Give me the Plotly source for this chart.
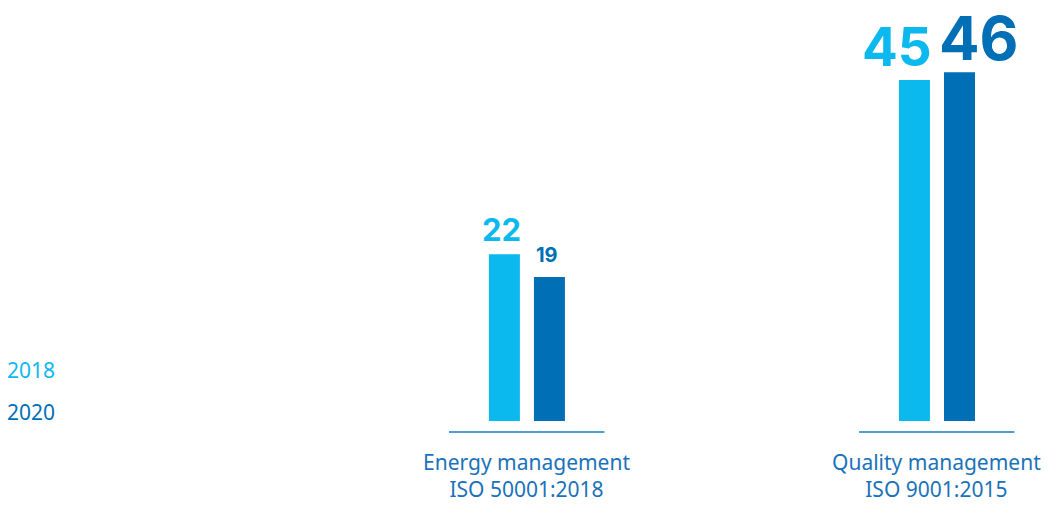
import plotly.graph_objects as go

# Certified sites by management standard
categories = ["Energy management<br>ISO 50001:2018", "Quality management<br>ISO 9001:2015"]
years = ["2018", "2020"]
values_2018 = [22, 45]
values_2020 = [19, 46]

LIGHT = "#0cb9ee"
DARK = "#006fb6"
TEXT = "#1a72b9"
RULE = "#4d9dd7"
FONT = "Noto Sans"

# Styling for the value labels above each bar (per year, per category)
label_sizes = {"2018": [31, 53], "2020": [20, 60]}
label_xshift = {"2018": [-3, -17], "2020": [-2, 20]}

bar_w = 0.0756
offsets = {"2018": -0.0927, "2020": 0.0171}
series = {"2018": values_2018, "2020": values_2020}
colors = {"2018": LIGHT, "2020": DARK}

fig = go.Figure()
for yr in years:
    fig.add_trace(go.Bar(
        x=categories, y=series[yr], name=yr,
        width=bar_w, offset=offsets[yr],
        marker=dict(color=colors[yr], line=dict(width=0)),
        hoverinfo="x+y", showlegend=False,
    ))

annotations = []
for yr in years:
    for i, v in enumerate(series[yr]):
        size = label_sizes[yr][i]
        annotations.append(dict(
            x=i + offsets[yr] + bar_w / 2, y=v, xref="x", yref="y",
            text=f"<b>{v}</b>", showarrow=False,
            xanchor="center", yanchor="bottom",
            yshift=13 - 0.27 * size,
            xshift=label_xshift[yr][i],
            font=dict(family="Inter", size=size, color=colors[yr]),
        ))

# Category labels and short base rules under each group
shapes = []
for i, cat in enumerate(categories):
    annotations.append(dict(
        x=i, y=1 - 475 / 505, xref="x", yref="paper", text=cat,
        showarrow=False, xanchor="center", yanchor="middle",
        font=dict(family=FONT, size=21, color=TEXT),
    ))
    shapes.append(dict(
        type="line", xref="x", yref="y",
        x0=i - 0.19, x1=i + 0.189, y0=-1.45, y1=-1.45,
        line=dict(color=RULE, width=2),
    ))

# Year key on the left, coloured text only
for yr, ypx in zip(years, [370, 412]):
    annotations.append(dict(
        x=5 / 1057, y=1 - ypx / 505, xref="paper", yref="paper", text=yr,
        showarrow=False, xanchor="left", yanchor="middle",
        font=dict(family=FONT, size=21, color=colors[yr]),
    ))

fig.update_layout(
    width=1057, height=505,
    margin=dict(l=0, r=0, t=0, b=0),
    paper_bgcolor="white", plot_bgcolor="white",
    barmode="overlay",
    xaxis=dict(type="category", range=[-1.285, 1.2927], visible=False),
    yaxis=dict(range=[-11.08, 55.54], visible=False),
    annotations=annotations, shapes=shapes,
    showlegend=False,
)

fig.write_html("out.html")
